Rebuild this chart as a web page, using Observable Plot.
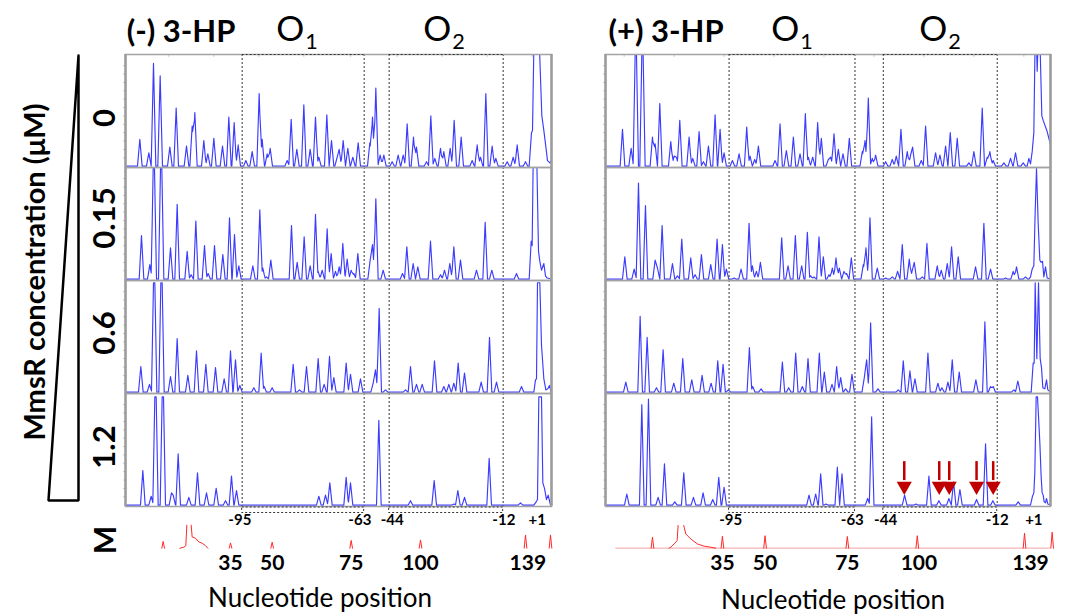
<!DOCTYPE html>
<html><head><meta charset="utf-8">
<script src="https://cdn.jsdelivr.net/npm/d3@7"></script>
<script src="https://cdn.jsdelivr.net/npm/@observablehq/plot@0.6"></script>
<style>
body{margin:0;background:#fff;}
#root{position:relative;width:1072px;height:615px;overflow:hidden;font-family:Lato,"Open Sans",sans-serif;color:#000;background:#fff}
.t{position:absolute;white-space:nowrap;line-height:1;transform:translate(-50%,-50%)}
.r{transform:translate(-50%,-50%) rotate(-90deg)}
.b{font-weight:bold}
sub{font-size:62%;vertical-align:-0.35em;margin-left:1px}
</style></head><body><div id="root"></div>
<script>
// ---------- data (x in migration units of each panel, h = relative signal) ----------
const concentrations = ["0", "0.15", "0.6", "1.2"];
const conditions = ["(-) 3-HP", "(+) 3-HP"];
const operators = ["O1", "O2"];

// (-) 3-HP traces : [position, height, halfWidth?, flatHalf?]
const minus0 = [[58,.24],[85,.12],[99,.92],[119,.81],[148,.17],[167,.52],[198,.18],[215,.36],[223,.48],[250,.23],[262,.11],[280,.25],[306,.18],[325,.44],[341,.39],[353,.19],[376,.05],[395,.13],[416,.65],[425,.24],[440,.11],[449,.16],[500,.05],[512,.42],[529,.15],[550,.55],[569,.15],[585,.44],[595,.08],[619,.46],[633,.23],[650,.08],[656,.15],[668,.23],[682,.16],[697,.08],[713,.21],[748,.21],[756,.44],[766,.70],[779,.10],[790,.10],[815,.04],[833,.10],[848,.10],[860,.38],[879,.26],[888,.17],[918,.04],[931,.45],[943,.07],[960,.16],[970,.13],[989,.16],[1001,.41],[1022,.26],[1055,.05],[1070,.19],[1080,.08],[1096,.65],[1115,.18],[1126,.07],[1160,.04],[1178,.08],[1190,.19],[1215,.04]];
const minus0Main = [[1226,0],[1233,.3],[1236,.32],[1240,1.05],[1257,1.05],[1264,.45],[1270,.32],[1275,.2],[1281,.05],[1288,.03],[1293,.05]];
const minus015 = [[63,.39],[88,.13],[100,.99,6,2],[122,.99,6,2],[150,.28],[170,.67],[200,.25],[212,.04],[226,.52],[252,.30],[263,.05],[282,.30],[307,.22],[327,.55],[342,.40],[355,.12],[397,.12],[418,.62],[427,.10],[438,.02],[451,.17],[513,.48],[530,.15],[551,.38],[569,.12],[585,.58],[593,.07],[605,.08],[620,.45],[632,.23],[645,.07],[656,.11],[667,.32],[680,.18],[692,.08],[700,.05],[712,.23],[749,.17],[756,.31],[766,.72],[788,.08],[846,.05],[859,.29],[878,.14],[892,.11],[930,.34],[960,.04],[972,.08],[988,.14],[1000,.29],[1020,.17],[1068,.08],[1094,.51],[1114,.08],[1188,.05]];
const minus015Main = [[1226,0],[1232,.34],[1235,.3],[1238,1.05],[1249,1.05],[1254,.25],[1258,.16],[1263,.08],[1270,.14],[1275,.03],[1280,.01]];
const minus06 = [[61,.23],[87,.07],[101,.98,6,2],[123,.98,6,2],[150,.14],[170,.48],[202,.15],[228,.37],[256,.25],[285,.22],[311,.12],[330,.37],[345,.29],[358,.06],[400,.04],[422,.35],[431,.05],[455,.04],[518,.25],[537,.02],[558,.23],[593,.30],[611,.07],[627,.32],[640,.13],[677,.26],[690,.16],[720,.12],[758,.08],[765,.20],[776,.75],[795,.02],[855,.02],[870,.23],[888,.07],[905,.07],[942,.28],[970,.05],[985,.07],[1000,.08],[1013,.26],[1032,.17],[1082,.09],[1107,.49],[1128,.09],[1203,.05]];
const minus06Main = [[1240,0],[1245,.11],[1248,.12],[1251,.98],[1258,.98],[1263,.42],[1270,.12],[1276,.02],[1282,.03],[1287,.06],[1292,0]];
const minus12 = [[67,.31],[92,.08],[105,.97,6,2],[127,.97,6,2],[153,.11],[158,.09],[173,.46],[205,.07],[231,.29],[258,.11],[287,.15],[315,.04],[333,.26],[348,.13],[595,.08],[615,.09],[628,.2],[677,.25],[690,.2],[775,.76],[870,.04],[941,.22],[1000,.01],[1012,.13],[1032,.07],[1106,.42],[1200,.02]];
const minus12Main = [[1240,0],[1247,.03],[1251,.05],[1255,.97],[1263,.97],[1267,.2],[1272,.15],[1278,.05],[1283,.09],[1290,0]];

// (+) 3-HP traces
const plus0 = [[65,.33],[91,.16],[105,1,6,2],[125,1,6,2],[155,.26],[163,.2],[177,.56],[210,.22],[220,.09],[227,.08],[237,.41],[265,.26],[276,.07],[295,.31],[308,.04],[323,.18],[343,.46],[358,.33],[370,.12],[395,.05],[415,.11],[438,.35],[448,.09],[462,.06],[473,.18],[523,.05],[538,.38],[557,.14],[578,.26],[598,.11],[614,.47],[623,.08],[636,.08],[651,.39],[662,.25],[683,.06],[690,.08],[700,.29],[713,.15],[727,.11],[746,.25],[785,.13],[793,.23],[803,.61],[815,.07],[825,.1],[855,.04],[875,.06],[887,.09],[901,.33],[920,.13],[930,.1],[936,.17],[962,.05],[975,.36],[1005,.12],[1018,.1],[1035,.18],[1049,.3],[1070,.25],[1105,.03],[1120,.13],[1145,.52],[1160,.08],[1168,.13],[1178,.05],[1210,.03],[1230,.07],[1245,.12],[1268,.03]];
const plus0Main = [[1280,0],[1285,.07],[1290,.02],[1295,.13],[1300,.3],[1305,1.4],[1310,.85],[1316,1.4],[1324,.45],[1328,.41],[1340,.31],[1350,.19]];
const plus015 = [[72,.2],[100,.09],[113,.86],[134,.66],[163,.17],[170,.1],[184,.48],[215,.14],[230,.03],[243,.36],[270,.19],[283,.04],[302,.22],[330,.13],[349,.36],[365,.31],[377,.09],[400,.01],[421,.09],[445,.5],[455,.12],[467,.07],[479,.15],[543,.37],[562,.12],[584,.39],[603,.12],[620,.42],[630,.03],[640,.02],[655,.38],[668,.2],[685,.04],[695,.1],[706,.19],[716,.1],[730,.07],[738,.05],[752,.19],[788,.13],[796,.28],[808,.55],[830,.1],[855,.01],[875,.02],[891,.07],[905,.31],[926,.18],[936,.09],[941,.15],[965,.02],[979,.32],[1010,.12],[1022,.08],[1040,.14],[1053,.29],[1073,.2],[1125,.11],[1150,.5],[1170,.09],[1215,.01],[1238,.07],[1248,.11],[1275,.02]];
const plus015Main = [[1285,0],[1290,.02],[1295,.09],[1300,.12],[1304,.6],[1308,.99],[1313,.5],[1318,.17],[1322,.15],[1326,.16],[1330,.02],[1335,.11],[1340,.01],[1350,0]];
const plus06 = [[75,.09],[118,.68],[139,.49],[167,.04],[187,.38],[219,.08],[246,.3],[273,.11],[304,.15],[331,.08],[351,.28],[367,.25],[383,.02],[446,.4],[456,.05],[481,.03],[545,.27],[564,.04],[585,.35],[605,.05],[622,.3],[656,.35],[671,.18],[694,.07],[708,.23],[720,.13],[735,.03],[754,.16],[791,.13],[798,.29],[810,.62],[832,.03],[893,.02],[908,.28],[928,.19],[943,.12],[982,.35],[1012,.08],[1024,.04],[1042,.09],[1055,.29],[1076,.18],[1126,.11],[1153,.63],[1170,.05],[1178,.05],[1240,.02],[1252,.1]];
const plus06Main = [[1292,0],[1298,.26],[1301,.26],[1304,.98],[1309,.3],[1314,.98],[1319,.3],[1323,.22],[1327,.04],[1333,.03],[1338,.11],[1342,.02],[1350,0]];
const plus12 = [[78,.1],[123,.9],[143,.95],[172,.07],[191,.37],[222,.03],[249,.29],[278,.07],[307,.11],[336,.05],[354,.25],[370,.16],[625,.09],[645,.1],[660,.28],[676,.01],[710,.34],[724,.28],[801,.06],[813,.79],[912,.09],[946,.01],[985,.26],[1015,.04],[1045,.06],[1059,.21],[1078,.14],[1128,.05],[1155,.55],[1177,.04],[1253,.03]];
const plus12Main = [[1290,0],[1296,.08],[1300,.11],[1303,.3],[1307,.97],[1311,.97],[1318,.56],[1322,.25],[1325,.11],[1328,.09],[1331,.03],[1335,.02],[1338,.06],[1342,.01],[1350,0]];
const plusProtected = [911, 1016, 1046, 1128, 1178];   // arrows, 1.2 µM row

// region boundaries and labels
const minusRegions = [365, 731, 806, 1148];
const plusRegions = [385, 763, 848, 1190];
const regionLabels = ["-95", "-63", "-44", "-12", "+1"];
const minusRegionLabelPos = [358, 718, 815, 1150, 1250];
const plusRegionLabelPos = [390, 755, 855, 1190, 1300];

// faint instrument ticks on each trace box
const yMinorTicks = [0.075, 0.15, 0.225, 0.3, 0.375, 0.45, 0.525, 0.6, 0.675, 0.75, 0.825, 0.9];
const minusTopTicks = [145, 280, 415, 550, 690, 830, 965, 1100, 1235];
const plusTopTicks = [70, 220, 370, 520, 670, 820, 970, 1120, 1270];

// size-standard marker lane (M)
const sizeLabels = ["35", "50", "75", "100", "139"];
const minusSizeLabelPos = [330, 455, 692, 900, 1222];
const plusSizeLabelPos = [365, 493, 740, 955, 1290];
const minusMarker = [[128,.27],[330,.21],[455,.24],[692,.31],[900,.33],[1215,.53],[1290,.53]];
const minusMarkerPrimer = [[178,0],[190,.04],[196,.1],[199,.92],[200,NaN],[212,.92],[215,.45],[225,.4],[235,.25],[245,.2],[255,.1],[262,0]];
const plusMarker = [[155,.44],[365,.48],[493,.5],[740,.47],[950,.5],[1272,.6],[1355,.64]];
const plusMarkerPrimer = [[205,0],[210,.04],[222,.2],[229,.3],[232,.91],[233,NaN],[249,.91],[255,.57],[270,.37],[290,.17],[310,.08],[330,.04],[345,0]];
const plusMarkerBaseline = [45, 1350];

// ---------- helpers ----------
const BLUE = "#3c3cff", RED = "#ff2a2a", DARKRED = "#c00000";
function shapeValue(s, x) {
  if (x < s[0][0] || x > s[s.length - 1][0]) return 0;
  for (let i = 1; i < s.length; i++) {
    const [x0, y0] = s[i - 1], [x1, y1] = s[i];
    if (x <= x1) return x1 === x0 ? Math.max(y0, y1) : y0 + (y1 - y0) * (x - x0) / (x1 - x0);
  }
  return 0;
}
function buildTrace(peaks, main, domain) {
  const shapes = peaks.map(([x, h, w = 7, f = 0]) => [[x - f - w, 0], [x - f, h], [x + f, h], [x + f + w, 0]]);
  shapes.push(main);
  const xs = new Set(domain);
  for (const s of shapes) for (const [x] of s) if (x >= domain[0] && x <= domain[1]) xs.add(x);
  return [...xs].sort((a, b) => a - b).map(x => ({x, y: d3.max(shapes, s => shapeValue(s, x))}));
}

const panels = [
  {title: conditions[0], domain: [15, 1293], peaks: [minus0, minus015, minus06, minus12], mains: [minus0Main, minus015Main, minus06Main, minus12Main],
   regions: minusRegions, labelPos: minusRegionLabelPos, sizePos: minusSizeLabelPos, marker: minusMarker, primer: minusMarkerPrimer, base: null, arrows: [], topTicks: minusTopTicks},
  {title: conditions[1], domain: [14, 1350], peaks: [plus0, plus015, plus06, plus12], mains: [plus0Main, plus015Main, plus06Main, plus12Main],
   regions: plusRegions, labelPos: plusRegionLabelPos, sizePos: plusSizeLabelPos, marker: plusMarker, primer: plusMarkerPrimer, base: plusMarkerBaseline, arrows: plusProtected, topTicks: plusTopTicks}
];
const layout = [{left: 125, width: 426}, {left: 605, width: 445}];
const TOP = 53, ROWS_H = 454, M = 10;

const root = document.getElementById("root");
function place(el, x, y) { el.style.position = "absolute"; el.style.left = x + "px"; el.style.top = y + "px"; root.appendChild(el); }
function txt(html, x, y, cls, size) {
  const d = document.createElement("div"); d.className = "t " + (cls || ""); d.innerHTML = html;
  d.style.left = x + "px"; d.style.top = y + "px"; d.style.fontSize = size + "px"; root.appendChild(d); return d;
}

panels.forEach((p, k) => {
  const L = layout[k];
  const traces = concentrations.flatMap((c, i) => buildTrace(p.peaks[i], p.mains[i], p.domain).map(d => ({...d, row: c})));
  const boxes = [{x1: p.regions[0], x2: p.regions[1]}, {x1: p.regions[2], x2: p.regions[3]}];
  const unit = (p.domain[1] - p.domain[0]) / L.width;  // data units per pixel
  const rows = Plot.plot({
    width: L.width + 2 * M, height: ROWS_H + 4,
    marginLeft: M, marginRight: M, marginTop: 2, marginBottom: 2,
    x: {domain: p.domain, axis: null},
    y: {domain: [-0.012, 1], axis: null},
    fy: {domain: concentrations, axis: null, padding: 0},
    marks: [
      Plot.ruleY(yMinorTicks, {x1: p.domain[0] - 2 * unit, x2: p.domain[0] + 2 * unit, stroke: "#c4c4c4", strokeWidth: 1}),
      Plot.ruleX(p.topTicks, {y1: 1, y2: 0.975, fy: () => "0", stroke: "#c4c4c4", strokeWidth: 1}),
      Plot.line(traces, {x: "x", y: "y", z: "row", fy: "row", stroke: BLUE, strokeWidth: 1.15, clip: true}),
      Plot.ruleX(p.regions, {stroke: "#333", strokeWidth: 1, strokeDasharray: "2,2"}),
      Plot.frame({stroke: "#a3a3a3", strokeWidth: 1.5}),
      Plot.ruleX(p.domain, {stroke: "#9c9c9c", strokeWidth: 2.5}),
      Plot.ruleY(boxes, {x1: "x1", x2: "x2", y: 1, fy: () => "0", stroke: "#333", strokeDasharray: "2,2"}),
      Plot.ruleX(p.arrows, {x: d => d, y1: .22, y2: .39, fy: () => "1.2", stroke: DARKRED, strokeWidth: 2.5}),
      Plot.dot(p.arrows, {x: d => d, y: .17, fy: () => "1.2", symbol: "triangle", rotate: 180, r: 5.6, fill: DARKRED, stroke: "none"})
    ]
  });
  place(rows, L.left - M, TOP - 2);

  const peaksData = p.marker.flatMap(([x, h], i) => [[x - 4, 0], [x, h], [x + 4, 0]].map(([px, py]) => ({x: px, y: py, id: "p" + i})));
  const primer = p.primer.map(([x, y]) => ({x, y, id: "primer"}));
  const ticks = regionLabels.map((label, i) => ({label, x: p.labelPos[i]}));
  const sizes = sizeLabels.map((label, i) => ({label, x: p.sizePos[i]}));
  const marks = [
    Plot.rect(boxes, {x1: "x1", x2: "x2", stroke: "#333", strokeDasharray: "2,2", fill: "none"}),
    Plot.line([...peaksData, ...primer], {x: "x", y: "y", z: "id", stroke: RED, strokeWidth: 1}),
    Plot.text(ticks, {x: "x", text: "label", frameAnchor: "top", lineAnchor: "middle", dy: 13, fontSize: 15, fontWeight: "bold", fill: "#000"}),
    Plot.text(sizes, {x: "x", text: "label", frameAnchor: "top", lineAnchor: "middle", dy: 56, fontSize: 21, fontWeight: "bold", fill: "#000"})
  ];
  if (p.base) marks.unshift(Plot.ruleY([0], {x1: p.base[0], x2: p.base[1], stroke: "#f6b4b4", strokeWidth: 1.2}));
  const lane = Plot.plot({
    width: L.width + 2 * M, height: 70,
    marginLeft: M, marginRight: M, marginTop: 0, marginBottom: 64.5,
    x: {domain: p.domain, axis: null},
    y: {domain: [0, 1], range: [40.7, 15.7], axis: null},
    style: {fontFamily: "Lato, sans-serif", overflow: "visible", background: "transparent"},
    marks
  });
  place(lane, L.left - M, TOP + ROWS_H);
});

// concentration wedge
const wedge = [{w: 1, c: 0}, {w: 1, c: 1}, {w: 0, c: 1}, {w: 1, c: 0}];
const wedgePlot = Plot.plot({
  width: 40, height: 455, margin: 5,
  x: {domain: [0, 1], axis: null}, y: {domain: [1, 0], axis: null},
  marks: [Plot.line(wedge, {x: "w", y: "c", stroke: "#000", strokeWidth: 2.5, strokeLinejoin: "miter"})]
});
place(wedgePlot, 43, 50);

// texts
txt(conditions[0], 181, 30, "b", 31);
txt(conditions[1], 666, 30, "b", 31);
[[297, 444], [792, 940]].forEach(xs => xs.forEach((x, i) => txt(operators[i][0] + "<sub>" + operators[i][1] + "</sub>", x, 31, "", 35)));
txt("Nucleotide position", 320, 597, "", 26);
txt("Nucleotide position", 833, 599, "", 26);
txt("MmsR concentration (μM)", 33, 272, "r b", 29);
[118, 218, 333, 447].forEach((y, i) => txt(concentrations[i], 103, y, "r b", 31));
txt("M", 104, 540, "r b", 30);
</script></body></html>
